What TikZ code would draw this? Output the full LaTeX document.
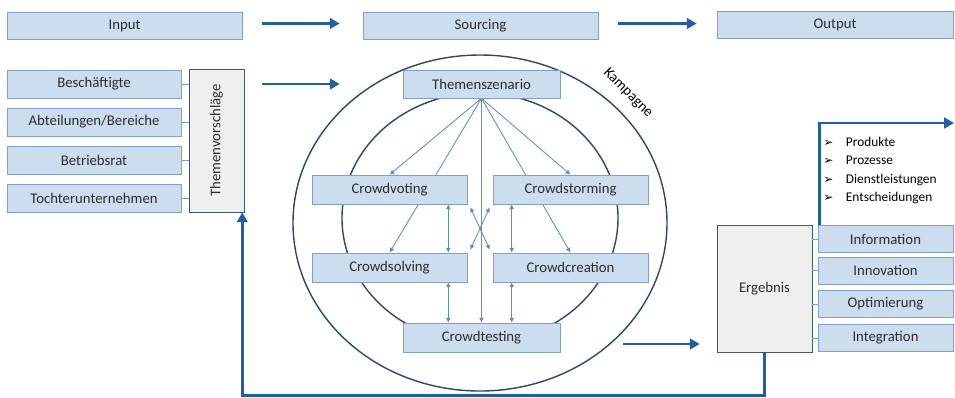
\documentclass[tikz,border=0pt]{standalone}
\usepackage{fontspec}
\setmainfont{Carlito}
\newfontfamily\pfeilfont{DejaVu Sans}
\usepackage{tikz}
\usetikzlibrary{calc,arrows.meta,backgrounds}

\definecolor{boxfill}{RGB}{204,221,240}
\definecolor{boxline}{RGB}{128,160,200}
\definecolor{greyfill}{RGB}{239,239,239}
\definecolor{greyline}{RGB}{70,85,110}
\definecolor{pfeil}{RGB}{31,94,168}
\definecolor{fanline}{RGB}{95,140,195}
\definecolor{ring}{RGB}{44,71,112}
\definecolor{txt}{RGB}{45,45,45}

\tikzset{
  box/.style={draw=boxline,fill=boxfill,text=txt,minimum height=0.675cm,inner sep=1pt,font=\fontsize{10.5}{12}\selectfont},
  greybox/.style={draw=greyline,fill=greyfill,text=txt,inner sep=1pt,font=\fontsize{10.5}{12}\selectfont},
  bigarrow/.style={pfeil,line width=2pt,-{Triangle[length=7pt,width=7.5pt]}},
  flow/.style={fanline,line width=0.6pt,-{Latex[length=3.5pt,width=3.5pt]}},
  both/.style={fanline,line width=0.6pt,{Latex[length=3.5pt,width=3.5pt]}-{Latex[length=3.5pt,width=3.5pt]}}
}

\begin{document}
\begin{tikzpicture}[x=0.025cm,y=-0.025cm]
\useasboundingbox (0,0) rectangle (955,397);

% Top row
\node[box,minimum width=5.875cm] (input) at (124.5,25.5) {Input};
\node[box,minimum width=5.875cm] (sourcing) at (480.5,25.5) {Sourcing};
\node[box,minimum width=5.9cm] (output) at (835,24.5) {Output};
\draw[bigarrow] ($(input.east)+(20,-2)$) -- ($(sourcing.west)+(-23,-2)$);
\draw[bigarrow] ($(sourcing.east)+(20,-2)$) -- ($(output.west |- sourcing.east)+(-20,-2)$);

% Input side
\node[box,minimum width=4.35cm,minimum height=0.7cm] (bes) at (94,84) {Beschäftigte};
\node[box,minimum width=4.35cm,minimum height=0.7cm] (abt) at (94,122) {Abteilungen/Bereiche};
\node[box,minimum width=4.35cm,minimum height=0.7cm] (bet) at (94,160) {Betriebsrat};
\node[box,minimum width=4.35cm,minimum height=0.7cm] (toc) at (94,198) {Tochterunternehmen};
\node[greybox,minimum width=1.375cm,minimum height=3.575cm] (tv) at (216.5,140.5) {};
\node[rotate=90,text=txt,font=\fontsize{10.5}{12}\selectfont] (tvtext) at (tv.center) {Themenvorschläge};
\foreach \n in {bes,abt,bet,toc}
  \draw[boxline] (\n.east) -- (\n.east -| tv.west);

% Campaign
\node[box,minimum width=3.925cm,minimum height=0.7cm] (tsz) at (481.5,84) {Themenszenario};
\node[box,minimum width=3.875cm,minimum height=0.725cm] (cv) at (389.5,189.5) {Crowdvoting};
\node[box,minimum width=3.875cm,minimum height=0.725cm] (cst) at (570.5,189.5) {Crowdstorming};
\node[box,minimum width=3.875cm,minimum height=0.725cm] (cs) at (389.5,267.5) {Crowdsolving};
\node[box,minimum width=3.875cm,minimum height=0.725cm] (ccr) at (570.5,267.5) {Crowdcreation};
\node[box,minimum width=3.925cm,minimum height=0.725cm] (ct) at (481.5,337.5) {Crowdtesting};
\node[rotate=-45,text=black,inner sep=0pt,font=\fontsize{10.5}{12}\selectfont] (kamp) at (628,93) {Kampagne};

\begin{scope}[on background layer]
\draw[ring,line width=1pt] (480,223) ellipse [x radius=187,y radius=168];
\draw[ring,line width=1pt] (480,218) ellipse [x radius=138,y radius=125];
% fan from the scenario
\draw[flow] (tsz.south) -- (cv.north);
\draw[flow] (tsz.south) -- (cs.north);
\draw[flow] (tsz.south) -- (cst.north);
\draw[flow] (tsz.south) -- (ccr.north);
\draw[flow] (tsz.south) -- (ct.north);
\end{scope}

% exchange between the methods
\coordinate (lo1) at ($(cv.south east)+(-19,0)$);
\coordinate (lo2) at ($(cs.north east)+(-19,0)$);
\coordinate (lo3) at ($(cs.south east)+(-19,0)$);
\coordinate (ro1) at ($(cst.south west)+(19,0)$);
\coordinate (ro2) at ($(ccr.north west)+(19,0)$);
\coordinate (ro3) at ($(ccr.south west)+(19,0)$);
\draw[both] (lo1) -- (lo2);
\draw[both] (ro1) -- (ro2);
\draw[both] (lo3) -- (lo3 |- ct.north);
\draw[both] (ro3) -- (ro3 |- ct.north);
\draw[both] ($(cv.south east)+(3,3)$) -- ($(ccr.north west)+(-3,-3)$);
\draw[both] ($(cst.south west)+(-3,3)$) -- ($(cs.north east)+(3,-3)$);

% Result side
\node[greybox,minimum width=2.375cm,minimum height=3.175cm] (erg) at (764.5,288.5) {Ergebnis};
\node[box,minimum width=3.375cm] (inf) at (885.5,239) {Information};
\node[box,minimum width=3.375cm] (inn) at (885.5,270.5) {Innovation};
\node[box,minimum width=3.375cm] (opt) at (885.5,304) {Optimierung};
\node[box,minimum width=3.375cm] (int) at (885.5,338) {Integration};
\foreach \n in {inf,inn,opt,int}
  \draw[boxline] (\n.west) -- (\n.west -| erg.east);
\draw[bigarrow] ($(ct.east)+(63,6.5)$) -- ($(erg.west |- ct.east)+(-17,6.5)$);

\coordinate (outend) at (954,123);
\draw[bigarrow] ($(inf.north west)+(2,0)$) |- (outend);
\node[anchor=north west,align=left,text=black,inner sep=0pt,font=\fontsize{9.5}{13}\selectfont] (liste) at (823,137)
  {{\pfeilfont\fontsize{8.5}{13}\selectfont ➢}\hspace{9pt}Produkte\\
   {\pfeilfont\fontsize{8.5}{13}\selectfont ➢}\hspace{9pt}Prozesse\\
   {\pfeilfont\fontsize{8.5}{13}\selectfont ➢}\hspace{9pt}Dienstleistungen\\
   {\pfeilfont\fontsize{8.5}{13}\selectfont ➢}\hspace{9pt}Entscheidungen};

% Feedback to the topics
\draw[bigarrow] (erg.south) -- ++(0,43) -| ($(tv.south east)+(-2,0)$);
\draw[bigarrow] ($(tv.east |- bes.east)+(18,0)$) -- ($(tsz.west)+(-63,0)$);
\end{tikzpicture}
\end{document}
